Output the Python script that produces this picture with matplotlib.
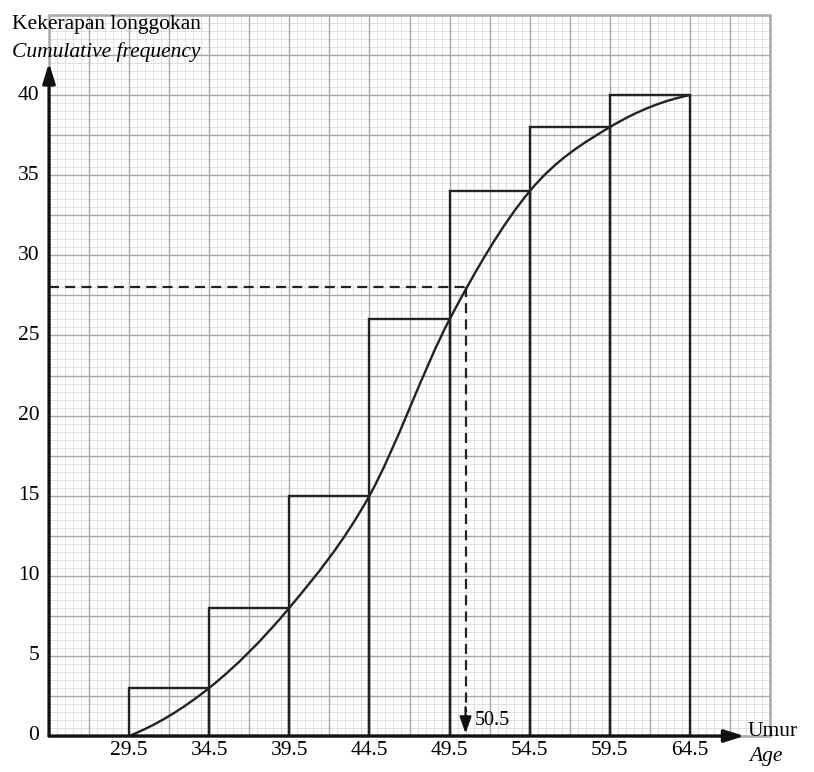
import numpy as np
import matplotlib
matplotlib.use("Agg")
import matplotlib.pyplot as plt
from matplotlib.path import Path
from matplotlib.patches import PathPatch, Rectangle

plt.rcParams['font.family'] = ['Liberation Serif', 'DejaVu Serif']

# upper class boundaries and cumulative frequencies
upper_bounds = [29.5, 34.5, 39.5, 44.5, 49.5, 54.5, 59.5, 64.5]
cum_freq = [0, 3, 8, 15, 26, 34, 38, 40]
x_labels = ['29.5', '34.5', '39.5', '44.5', '49.5', '54.5', '59.5', '64.5']
y_ticks = [0, 5, 10, 15, 20, 25, 30, 35, 40]
median_pos = 28
median_age = 50.5

xmin, xmax = 24.5, 69.5
ymin, ymax = 0, 45
FS = 15.5

fig = plt.figure(figsize=(8.14, 7.72), dpi=100)
ax = fig.add_axes([49 / 814, 36 / 772, 721 / 814, 721 / 772])
ax.set_xlim(xmin, xmax)
ax.set_ylim(ymin, ymax)
for s in ax.spines.values():
    s.set_visible(False)
ax.set_xticks([])
ax.set_yticks([])

# graph paper
for v in np.arange(xmin, xmax + 0.01, 0.5):
    ax.axvline(v, color='#dcdcdc', lw=0.6, zorder=0)
for v in np.arange(ymin, ymax + 0.01, 0.5):
    ax.axhline(v, color='#dcdcdc', lw=0.6, zorder=0)
for v in np.arange(xmin, xmax + 0.01, 2.5):
    ax.axvline(v, color='#a6a6a6', lw=1.0, zorder=0.5)
for v in np.arange(ymin, ymax + 0.01, 2.5):
    ax.axhline(v, color='#a6a6a6', lw=1.0, zorder=0.5)
ax.add_patch(Rectangle((xmin, ymin), xmax - xmin, ymax - ymin, fill=False,
                       edgecolor='#aaaaaa', lw=1.8, zorder=0.6, clip_on=False))

# bars
for i in range(1, len(upper_bounds)):
    x0 = upper_bounds[i - 1]
    w = upper_bounds[i] - x0
    ax.add_patch(Rectangle((x0, 0), w, cum_freq[i], fill=False,
                           edgecolor='#222222', lw=1.7, zorder=3))

# smooth ogive through the points (cubic bezier segments)
xs = np.array(upper_bounds, dtype=float)
ys = np.array(cum_freq, dtype=float)
n = len(xs)
m = np.zeros(n)
for i in range(1, n - 1):
    m[i] = (ys[i + 1] - ys[i - 1]) / (xs[i + 1] - xs[i - 1])
m[0] = 2 * (ys[1] - ys[0]) / (xs[1] - xs[0]) - m[1]
m[-1] = max(0, 2 * (ys[-1] - ys[-2]) / (xs[-1] - xs[-2]) - m[-2])
verts = [(xs[0], ys[0])]
codes = [Path.MOVETO]
for i in range(n - 1):
    h = xs[i + 1] - xs[i]
    verts += [(xs[i] + h / 3, ys[i] + m[i] * h / 3),
              (xs[i + 1] - h / 3, ys[i + 1] - m[i + 1] * h / 3),
              (xs[i + 1], ys[i + 1])]
    codes += [Path.CURVE4] * 3
ax.add_patch(PathPatch(Path(verts, codes), fill=False, edgecolor='#222222',
                       lw=1.7, zorder=4))

# median construction
ax.plot([xmin, median_age], [median_pos, median_pos], color='#222222',
        lw=1.6, ls=(0, (4.5, 2.8)), zorder=5)
ax.plot([median_age, median_age], [median_pos, 1.5], color='#222222',
        lw=1.6, ls=(0, (4.5, 2.8)), zorder=5)
ax.annotate('', xy=(median_age, 0.15), xytext=(median_age, 1.8),
            arrowprops=dict(arrowstyle='-|>,head_length=1.0,head_width=0.35',
                            color='#111111', lw=1.6, shrinkA=0, shrinkB=0),
            zorder=6)
ax.text(median_age + 0.6, 0.95, '50.5', fontsize=FS - 1, ha='left', va='center')

# axes with arrows
ax.annotate('', xy=(xmin, 42.0), xytext=(xmin, 0),
            arrowprops=dict(arrowstyle='-|>,head_length=1.2,head_width=0.38',
                            color='#111111', lw=2.3, shrinkA=0, shrinkB=0),
            annotation_clip=False, zorder=7)
ax.annotate('', xy=(67.9, 0), xytext=(xmin, 0),
            arrowprops=dict(arrowstyle='-|>,head_length=1.2,head_width=0.38',
                            color='#111111', lw=2.3, shrinkA=0, shrinkB=0),
            annotation_clip=False, zorder=7)

# tick labels
for xv, lab in zip(upper_bounds, x_labels):
    ax.text(xv, -0.9, lab, fontsize=FS, ha='center', va='center', clip_on=False)
for yv in y_ticks:
    ax.text(xmin - 0.6, yv, str(yv), fontsize=FS, ha='right', va='center',
            clip_on=False)

# axis titles
fig.text(12 / 814, 1 - 25 / 772, 'Kekerapan longgokan', fontsize=FS,
         ha='left', va='center')
fig.text(12 / 814, 1 - 52 / 772, 'Cumulative frequency', fontsize=FS,
         style='italic', ha='left', va='center')
fig.text(748 / 814, 1 - 732 / 772, 'Umur', fontsize=FS, ha='left', va='center')
fig.text(749 / 814, 1 - 756 / 772, 'Age', fontsize=FS, style='italic',
         ha='left', va='center')

fig.savefig('out.png', dpi=100)
